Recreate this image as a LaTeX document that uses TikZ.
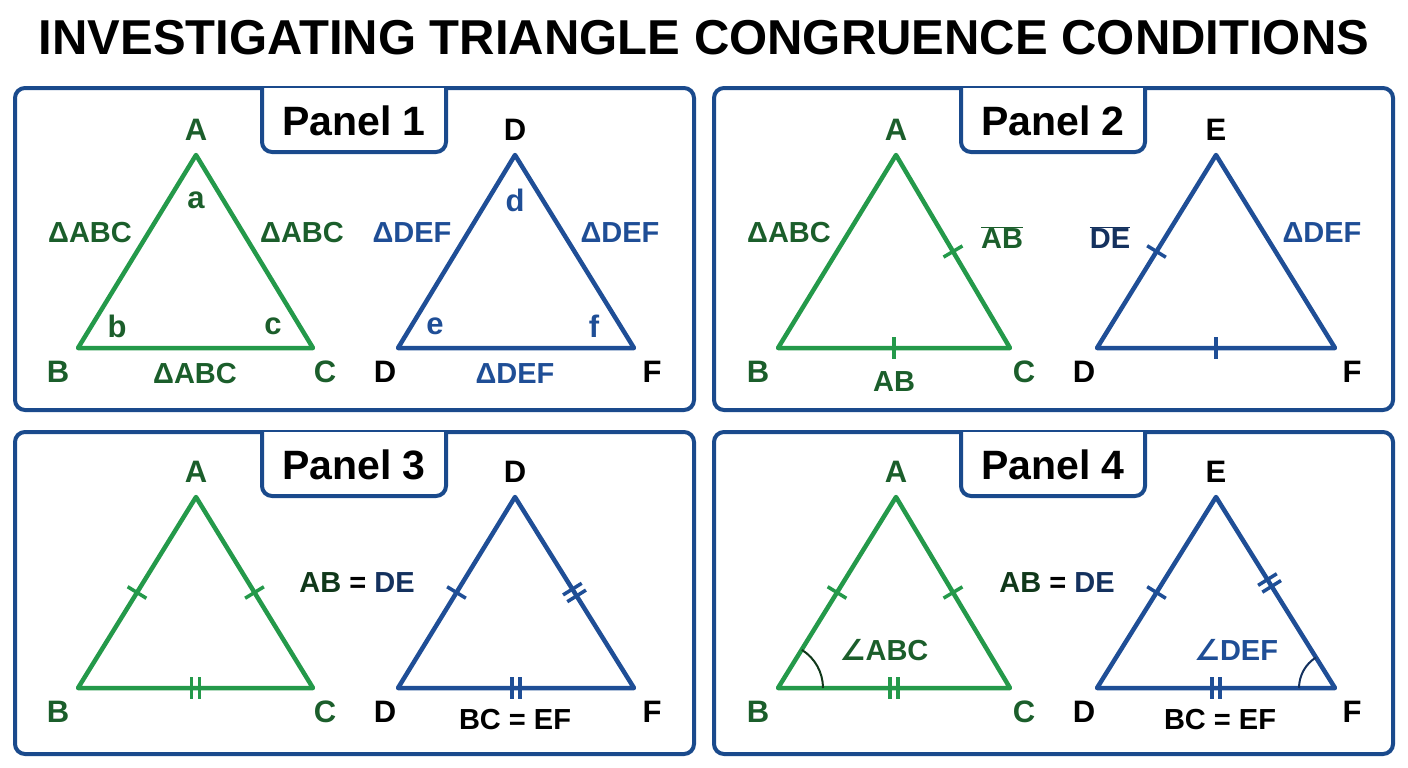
\documentclass[tikz,border=0pt]{standalone}
\usepackage{fontspec}
\setmainfont{Liberation Sans}
\newfontfamily\dvs{DejaVu Sans}
\usetikzlibrary{calc}
\definecolor{grn}{HTML}{24994A}
\definecolor{dgrn}{HTML}{1B5E2B}
\definecolor{blu}{HTML}{1F4E96}
\definecolor{nav}{HTML}{14315E}
\definecolor{frm}{HTML}{1A4A8C}
\newcommand\tk[3]{\coordinate (tq) at ($(#1)!#3!(#2)$);\draw ($(tq)!11pt!90:(#2)$) -- ($(tq)!11pt!-90:(#2)$);}
\newcommand\tkk[3]{\coordinate (tq) at ($(#1)!#3!(#2)$);\coordinate (tq1) at ($(tq)!4pt!(#2)$);\coordinate (tq2) at ($(tq)!-4pt!(#2)$);\draw ($(tq1)!11pt!90:(#2)$) -- ($(tq1)!11pt!-90:(#2)$);\draw ($(tq2)!11pt!90:(#2)$) -- ($(tq2)!11pt!-90:(#2)$);}
\newcommand\ang{{\dvs ∠}}
\begin{document}
\begin{tikzpicture}[x=1pt,y=-1pt,
 frame/.style={draw=frm,line width=4pt,rounded corners=10pt},
 gl/.style={draw=grn,line width=4.5pt,line join=round},
 bl/.style={draw=blu,line width=4.5pt,line join=round},
 vl/.style={font=\bfseries\fontsize{31}{31}\selectfont},
 sl/.style={font=\bfseries\fontsize{29}{29}\selectfont},
 ttl/.style={font=\bfseries\fontsize{41}{41}\selectfont}]
\useasboundingbox (0,0) rectangle (1408,768);
\node[font=\bfseries\fontsize{49}{49}\selectfont] (title) at (704,38) {INVESTIGATING TRIANGLE CONGRUENCE CONDITIONS};
% frames
\foreach \x/\y/\n in {15/88/1,714/88/2,15/432/3,714/432/4}{
 \draw[frame] (\x,\y) rectangle ++(679,322);
}
\foreach \x/\y/\n in {262/88/1,961/88/2,262/432/3,961/432/4}{
 \draw[frame,fill=white] (\x,\y) -- (\x,\y+64) -- (\x+184,\y+64) -- (\x+184,\y);
 \node[ttl] (tab\n) at (\x+92,\y+33) {Panel \n};
}
% ===== Panel 1
\coordinate (A1) at (196,155); \coordinate (B1) at (78,348); \coordinate (C1) at (313,348);
\coordinate (D1) at (515,155); \coordinate (E1) at (398,348); \coordinate (F1) at (634,348);
\draw[gl] (A1)--(B1)--(C1)--cycle; \draw[bl] (D1)--(E1)--(F1)--cycle;
\node[vl,dgrn] (la1) at (196,130) {A}; \node[vl,dgrn] (lb1) at (58,372) {B}; \node[vl,dgrn] (lc1) at (325,372) {C};
\node[vl] (ld1) at (515,130) {D}; \node[vl] (le1) at (385,372) {D}; \node[vl] (lf1) at (652,372) {F};
\node[vl,dgrn] at (196,200) {a}; \node[vl,dgrn] at (117,326) {b}; \node[vl,dgrn] at (273,326) {c};
\node[vl,blu] at (515,200) {d}; \node[vl,blu] at (435,326) {e}; \node[vl,blu] at (594,326) {f};
\node[sl,dgrn] at (90,233) {ΔABC}; \node[sl,dgrn] at (302,233) {ΔABC}; \node[sl,dgrn] at (195,374) {ΔABC};
\node[sl,blu] at (412,233) {ΔDEF}; \node[sl,blu] at (620,233) {ΔDEF}; \node[sl,blu] at (515,374) {ΔDEF};
% ===== Panel 2
\coordinate (A2) at (896,155); \coordinate (B2) at (778,348); \coordinate (C2) at (1010,348);
\coordinate (D2) at (1216,155); \coordinate (E2) at (1097,348); \coordinate (F2) at (1335,348);
\draw[gl] (A2)--(B2)--(C2)--cycle; \draw[bl] (D2)--(E2)--(F2)--cycle;
\begin{scope}[grn,line width=3.5pt]\tk{A2}{C2}{0.5}\tk{B2}{C2}{0.5}\end{scope}
\begin{scope}[blu,line width=3.5pt]\tk{D2}{E2}{0.5}\tk{E2}{F2}{0.5}\end{scope}
\node[vl,dgrn] at (896,130) {A}; \node[vl,dgrn] at (758,372) {B}; \node[vl,dgrn] at (1024,372) {C};
\node[vl] at (1216,130) {E}; \node[vl] at (1084,372) {D}; \node[vl] at (1352,372) {F};
\node[sl,dgrn] at (789,233) {ΔABC};
\node[sl,dgrn] at (1002,238) {$\overline{\mbox{AB}}$};
\node[sl,dgrn] at (894,382) {AB};
\node[sl,nav] at (1110,238) {$\overline{\mbox{DE}}$};
\node[sl,blu] at (1322,233) {ΔDEF};
% ===== Panel 3
\coordinate (A3) at (196,497); \coordinate (B3) at (78,688); \coordinate (C3) at (313,688);
\coordinate (D3) at (515,497); \coordinate (E3) at (398,688); \coordinate (F3) at (634,688);
\draw[gl] (A3)--(B3)--(C3)--cycle; \draw[bl] (D3)--(E3)--(F3)--cycle;
\begin{scope}[grn,line width=3.5pt]\tk{A3}{B3}{0.5}\tk{A3}{C3}{0.5}\tkk{B3}{C3}{0.5}\end{scope}
\begin{scope}[blu,line width=3.5pt]\tk{D3}{E3}{0.5}\tkk{D3}{F3}{0.5}\tkk{E3}{F3}{0.5}\end{scope}
\node[vl,dgrn] at (196,472) {A}; \node[vl,dgrn] at (58,712) {B}; \node[vl,dgrn] at (325,712) {C};
\node[vl] at (515,472) {D}; \node[vl] at (385,712) {D}; \node[vl] at (652,712) {F};
\node[sl] at (357,583) {\textcolor{dgrn!60!black}{AB} = \textcolor{nav}{DE}};
\node[sl] at (515,720) {BC = EF};
% ===== Panel 4
\coordinate (A4) at (896,497); \coordinate (B4) at (778,688); \coordinate (C4) at (1010,688);
\coordinate (D4) at (1216,497); \coordinate (E4) at (1097,688); \coordinate (F4) at (1335,688);
\draw[gl] (A4)--(B4)--(C4)--cycle; \draw[bl] (D4)--(E4)--(F4)--cycle;
\begin{scope}[grn,line width=3.5pt]\tk{A4}{B4}{0.5}\tk{A4}{C4}{0.5}\tkk{B4}{C4}{0.5}\end{scope}
\begin{scope}[blu,line width=3.5pt]\tk{D4}{E4}{0.5}\tkk{D4}{F4}{0.45}\tkk{E4}{F4}{0.5}\end{scope}
\draw[line width=2pt,dgrn!60!black] ($(B4)+(45,0)$) arc[start angle=0,end angle=-58,radius=45];
\draw[line width=2pt,nav] ($(F4)+(-36,0)$) arc[start angle=180,end angle=238,radius=36];
\node[vl,dgrn] at (896,472) {A}; \node[vl,dgrn] at (758,712) {B}; \node[vl,dgrn] at (1024,712) {C};
\node[vl] at (1216,472) {E}; \node[vl] at (1084,712) {D}; \node[vl] at (1352,712) {F};
\node[sl] at (1057,583) {\textcolor{dgrn!60!black}{AB} = \textcolor{nav}{DE}};
\node[sl,dgrn] at (884,650) {\ang ABC};
\node[sl,blu] at (1236,650) {\ang DEF};
\node[sl] at (1220,720) {BC = EF};
\end{tikzpicture}
\end{document}
